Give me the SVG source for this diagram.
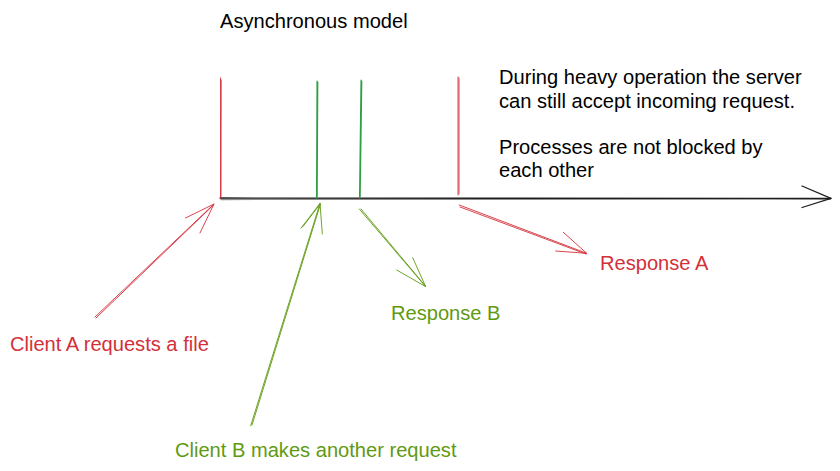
<svg xmlns="http://www.w3.org/2000/svg" width="840" height="471" viewBox="0 0 840 471">
<style>
text{font-family:"Liberation Sans",Arial,sans-serif;font-size:20.1px}
.k{fill:#000}
.r{fill:#d3303a}
.g{fill:#5f9a12}
.ln{fill:none;stroke-linecap:round;stroke-linejoin:round}
.sk{stroke:#1e1e1e;stroke-width:1.3}
.sr{stroke:#d3303a;stroke-width:0.9}
.sg{stroke:#5f9a12;stroke-width:0.9}
.sd{stroke:#2f9e44;stroke-width:1.1}
</style>
<rect width="840" height="471" fill="#fff"/>
<g id="title"><text class="k" x="220" y="28">Asynchronous model</text></g>
<g id="note">
<text class="k" x="499" y="84">During heavy operation the server</text>
<text class="k" x="499" y="108">can still accept incoming request.</text>
<text class="k" x="499" y="154">Processes are not blocked by</text>
<text class="k" x="499" y="177">each other</text>
</g>
<g id="timeline">
<path class="ln sk" d="M220 198 L831 198.5"/>
<path class="ln sk" d="M221 199.5 L830 199" stroke-opacity="0.5"/>
<path class="ln sk" d="M802 186 L831 198.3 L802 207.5"/>
</g>
<g id="markers">
<path class="ln sr" d="M220.5 78 L220.5 198 M221.2 80 L221 197"/>
<path class="ln sd" d="M317 81 L316.5 198 M317.8 82 L317.2 197"/>
<path class="ln sd" d="M361 80 L359.5 198 M361.8 81 L360.2 197"/>
<path class="ln sr" d="M458 77 L458 195 M459 78 L459 194"/>
</g>
<g id="connectors">
<g id="arrow-client-a">
<path class="ln sr" d="M95 317 L214 204 M96 318 L213.5 205"/>
<path class="ln sr" d="M185.5 218 L214 204 L200 233"/>
</g>
<g id="arrow-client-b">
<path class="ln sg" d="M250.7 425.7 L320 203.3 M252 425 L320.5 204"/>
<path class="ln sg" d="M301 228.3 L320 203.3 L322.3 234 M302.5 227 L319.5 205"/>
</g>
<g id="arrow-response-b">
<path class="ln sg" d="M359.3 209 L425.7 286.7 M361 209 L425 285.5"/>
<path class="ln sg" d="M396.7 270 L425.7 286.7 L412.7 257.7"/>
</g>
<g id="arrow-response-a">
<path class="ln sr" d="M459.3 205 L586.7 253.3 M460 207 L586 254"/>
<path class="ln sr" d="M555.7 251 L586.7 253.3 L563.3 232.3"/>
</g>
</g>
<g id="label-response-a"><text class="r" x="600" y="270">Response A</text></g>
<g id="label-response-b"><text class="g" x="391" y="320">Response B</text></g>
<g id="label-client-a"><text class="r" x="10" y="351">Client A requests a file</text></g>
<g id="label-client-b"><text class="g" x="175" y="457">Client B makes another request</text></g>
</svg>
